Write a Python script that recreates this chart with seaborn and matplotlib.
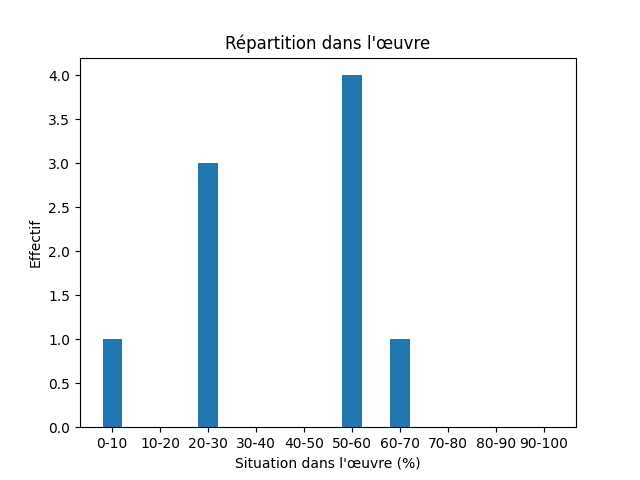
import matplotlib
matplotlib.use("Agg")
import matplotlib.pyplot as plt
import seaborn as sns

# Tranches de position dans l'oeuvre et effectifs
tranches = ["0-10", "10-20", "20-30", "30-40", "40-50",
            "50-60", "60-70", "70-80", "80-90", "90-100"]
effectifs = [1, 0, 3, 0, 0, 4, 1, 0, 0, 0]

fig, ax = plt.subplots(figsize=(6.4, 4.8), dpi=100)
sns.barplot(x=tranches, y=effectifs, color="#1f77b4", saturation=1,
            width=0.4, ax=ax)
ax.set_xlim(-0.67, 9.67)
ax.set_ylim(0, 4.2)
ax.set_title("Répartition dans l'œuvre")
ax.set_xlabel("Situation dans l'œuvre (%)")
ax.set_ylabel("Effectif")
ax.yaxis.set_major_formatter(matplotlib.ticker.FormatStrFormatter("%.1f"))

fig.savefig("out.png")
